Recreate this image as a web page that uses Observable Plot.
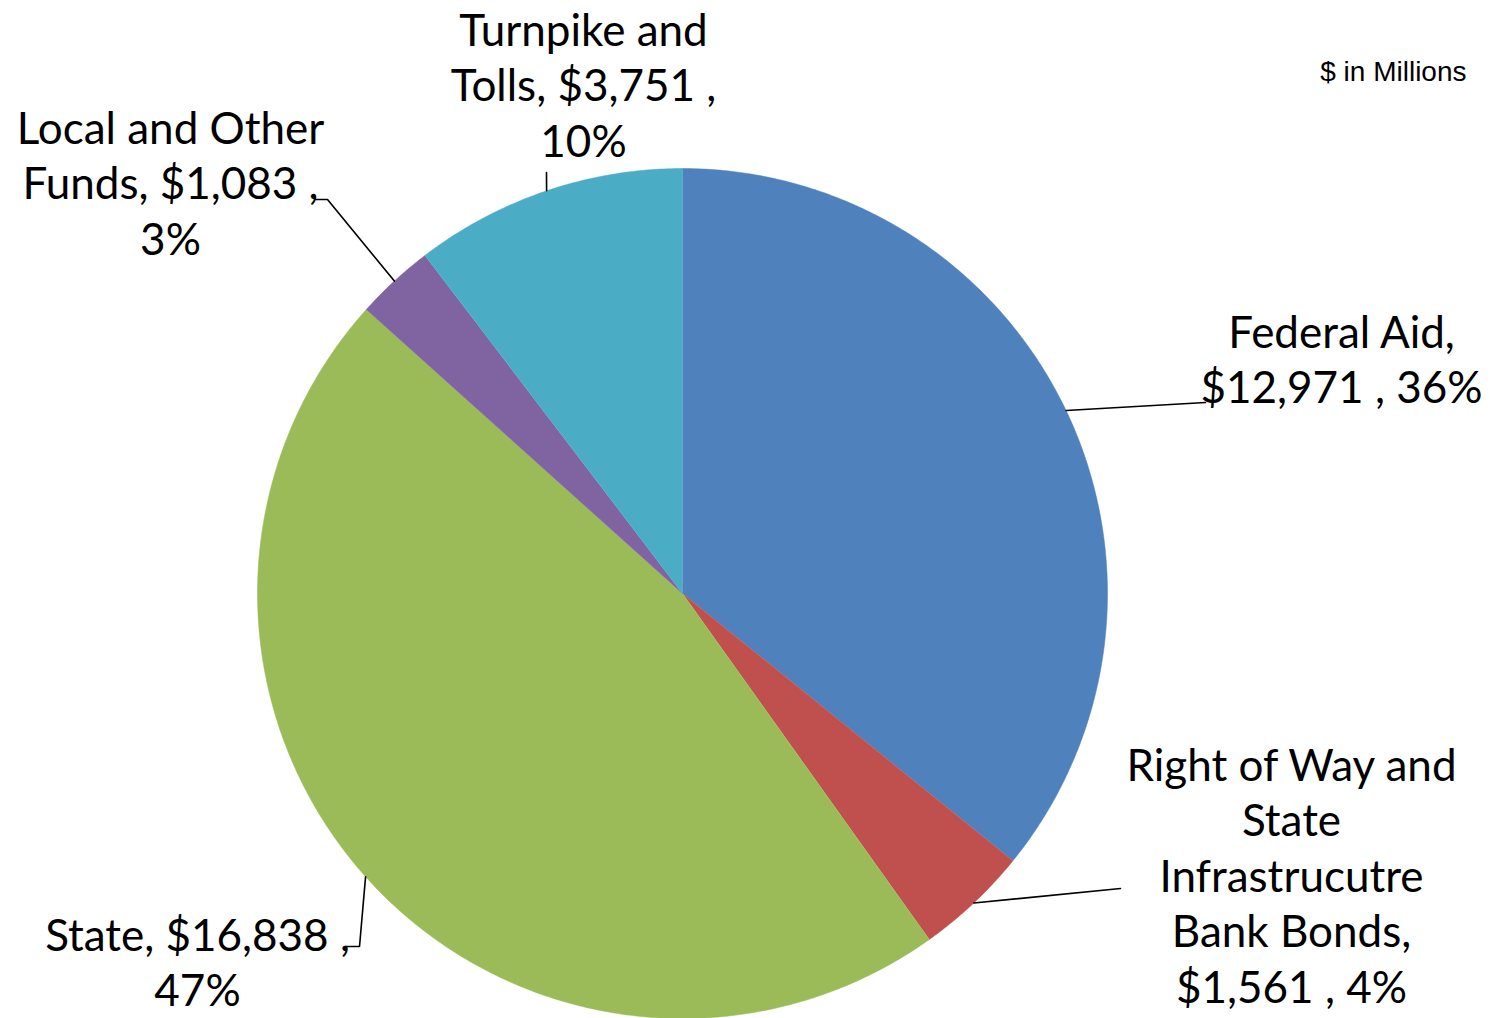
<!DOCTYPE html>
<html>
<head>
<meta charset="utf-8">
<script src="https://cdn.jsdelivr.net/npm/d3@7"></script>
<script src="https://cdn.jsdelivr.net/npm/@observablehq/plot@0.6"></script>
<style>
  html, body { margin: 0; padding: 0; background: #fff; }
  #chart { width: 1490px; height: 1018px; overflow: hidden; }
</style>
</head>
<body>
<div id="chart"></div>
<script>
// ---- Data ----
const categories = ["Federal Aid", "Right of Way and State Infrastrucutre Bank Bonds", "State", "Local and Other Funds", "Turnpike and Tolls"];
const values = [12971, 1561, 16838, 1083, 3751];
const colors = ["#4F81BD", "#C0504D", "#9BBB59", "#8064A2", "#4BACC6"];
// how each label's name is broken into lines (layout)
const nameLines = [
  ["Federal Aid,"],
  ["Right of Way and", "State", "Infrastrucutre", "Bank Bonds,"],
  ["State,"],
  ["Local and Other", "Funds,"],
  ["Turnpike and", "Tolls,"]
];
const unitNote = "$ in Millions";

// ---- Layout (pixels) ----
const CX = 682, CY = 593, R = 425;
const FS = 44, LH = 55.5;
const labelPos = [   // [center x, first baseline]
  [1341, 347],
  [1291, 780],
  [197, 950],
  [170, 143],
  [583, 45]
];
const leaderElbows = [
  [[1205, 402]],
  [[1120, 888]],
  [[359, 946], [345, 946]],
  [[327, 199], [315, 199]],
  [[546, 172]]
];

const ux = px => (px - CX) / R;
const uy = py => (CY - py) / R;

const total = d3.sum(values);
const fmt = d3.format(",");
const pct = v => Math.round(v / total * 100) + "%";

function labelLines(i) {
  const v = values[i];
  const n = nameLines[i];
  const money = "$" + fmt(v);
  if (i === 0) return [n[0], money + " , " + pct(v)];
  if (i === 1) return [...n, money + " , " + pct(v)];
  if (i === 2) return [n[0] + " " + money + " ,", pct(v)];
  return [...n.slice(0, -1), n[n.length - 1] + " " + money + " ,", pct(v)];
}

const arcs = d3.pie().sort(null).value(d => d)(values);

const slices = [];
arcs.forEach((a, i) => {
  const n = Math.max(8, Math.ceil((a.endAngle - a.startAngle) / (Math.PI * 2) * 720));
  slices.push({k: i, x: 0, y: 0});
  for (let j = 0; j <= n; j++) {
    const t = a.startAngle + (a.endAngle - a.startAngle) * j / n;
    slices.push({k: i, x: Math.sin(t), y: Math.cos(t)});
  }
});

const leaders = [];
arcs.forEach((a, i) => {
  const m = (a.startAngle + a.endAngle) / 2;
  leaders.push({k: i, x: Math.sin(m), y: Math.cos(m)});
  leaderElbows[i].forEach(([px, py]) => leaders.push({k: i, x: ux(px), y: uy(py)}));
});

const labels = [];
values.forEach((v, i) => {
  labelLines(i).forEach((t, j) => {
    labels.push({
      text: t,
      x: ux(labelPos[i][0]),
      y: uy(labelPos[i][1] + j * LH - 0.71 * FS)
    });
  });
});

const chart = Plot.plot({
  width: 1490,
  height: 1018,
  margin: 0,
  x: {domain: [-1, 1], range: [CX - R, CX + R], axis: null},
  y: {domain: [-1, 1], range: [CY + R, CY - R], axis: null},
  style: {background: "#fff"},
  marks: [
    ...colors.map((c, i) => Plot.line(slices.filter(d => d.k === i), {
      x: "x", y: "y", fill: c, stroke: c, strokeWidth: 0.5, curve: "linear"
    })),
    Plot.line(leaders, {x: "x", y: "y", z: "k", stroke: "#000", strokeWidth: 1.6, curve: "linear"}),
    Plot.text(labels, {
      x: "x", y: "y", text: "text",
      fontSize: FS, lineAnchor: "top", textAnchor: "middle",
      fill: "#000", fontFamily: "Lato, 'Open Sans', sans-serif"
    }),
    Plot.text([unitNote], {
      x: ux(1466), y: uy(80 - 0.71 * 28), text: d => d,
      fontSize: 28, lineAnchor: "top", textAnchor: "end",
      fill: "#000", fontFamily: "'Liberation Sans', Arial, sans-serif"
    })
  ]
});
document.getElementById("chart").appendChild(chart);
</script>
</body>
</html>
